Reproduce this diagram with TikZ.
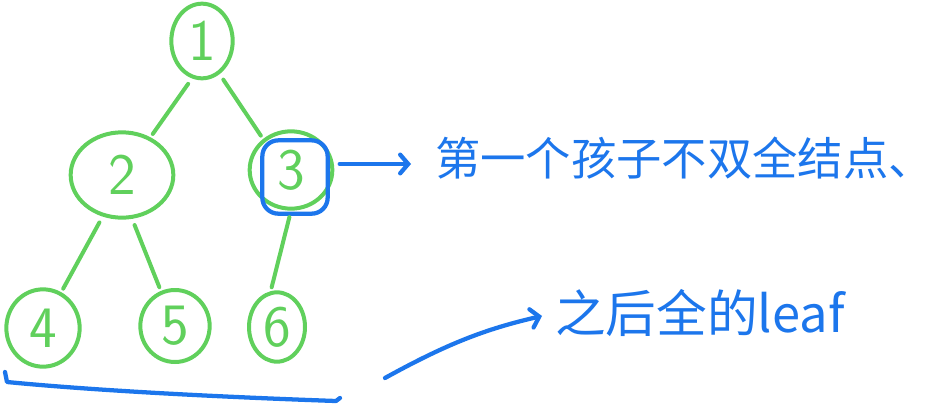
\documentclass[tikz,border=0pt]{standalone}
\usepackage{fontspec}
\newfontfamily\cjk{Noto Sans CJK SC}
\usetikzlibrary{shapes.geometric,arrows.meta,positioning}
\definecolor{treegreen}{RGB}{96, 208, 92}
\definecolor{inkblue}{RGB}{28, 118, 236}

\begin{document}
\begin{tikzpicture}[
    x=0.75pt, y=-0.75pt,
    every node/.style={align=center},
    treenode/.style={ellipse, draw=treegreen, line width=3pt, inner sep=0pt, text=treegreen, font=\sffamily\fontsize{44}{44}\selectfont},
    focusbox/.style={rectangle, rounded corners=12pt, draw=inkblue, line width=3.2pt, minimum width=49pt, minimum height=55pt},
    edge/.style={draw=treegreen, line width=3pt, line cap=round, shorten <=5pt, shorten >=3pt},
    note/.style={text=inkblue, inner sep=0pt, anchor=west},
    arrow/.style={draw=inkblue, line width=3.2pt, line cap=round, -{Straight Barb[length=6pt,width=14pt,line cap=round]}}
]
\useasboundingbox (0,0) rectangle (944,414);

% Tree nodes
\node[treenode, minimum width=46pt, minimum height=56pt] (n1) at (202,41) {1};
\node[treenode, minimum width=77pt, minimum height=64pt] (n2) at (122,175) {2};
\node[treenode, minimum width=62pt, minimum height=58pt] (n3) at (291,170) {3};
\node[treenode, minimum width=55pt, minimum height=58pt] (n4) at (43,328) {4};
\node[treenode, minimum width=52pt, minimum height=54pt] (n5) at (175,326) {5};
\node[treenode, minimum width=42pt, minimum height=52pt] (n6) at (277,327) {6};
\node[focusbox] (n3focus) at (295,177) {};

% Notes
\node[note, font=\cjk\fontsize{34}{40}\selectfont] (note1) at (435,158) {第一个孩子不双全结点、};
\node[note, font=\cjk\fontsize{38}{42}\selectfont] (note2) at (555,313) {之后全的leaf};
\coordinate (tail) at (385,378);

% Edges
\draw[edge] (n1.255) -- (n2.53);
\draw[edge] (n1.298) -- (n3.132);
\draw[edge] (n2.245) -- (n4.63);
\draw[edge] (n2.283) -- (n5.112);
\draw[edge] (n3.270) -- (n6.100);

% Arrows
\draw[arrow, shorten <=4pt, shorten >=18pt] (n3.east |- 0,164) -- (note1.west |- 0,164);
\draw[arrow, shorten >=10pt] (tail) to[bend left=8] (note2.west);

% Underline of the leaves
\draw[draw=inkblue, line width=3.2pt, line cap=round, line join=round]
    (5,372) -- (7,382) .. controls (110,392) and (250,398) .. (336,401) -- (340,398);

\end{tikzpicture}
\end{document}
